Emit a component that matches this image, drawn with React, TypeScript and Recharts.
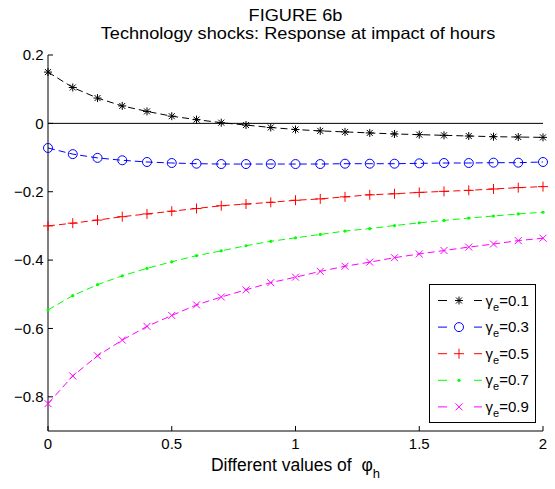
import React from 'react';
import { LineChart, Line, XAxis, YAxis, ReferenceLine, Legend } from 'recharts';

// phi_h grid
const phiValues = [0, 0.1, 0.2, 0.3, 0.4, 0.5, 0.6, 0.7, 0.8, 0.9, 1.0, 1.1, 1.2, 1.3, 1.4, 1.5, 1.6, 1.7, 1.8, 1.9, 2.0];

// response at impact of hours, one array per gamma_e
const gamma01 = [0.150, 0.105, 0.074, 0.051, 0.035, 0.021, 0.011, 0.002, -0.005, -0.012, -0.018, -0.022, -0.025, -0.028, -0.031, -0.033, -0.035, -0.037, -0.039, -0.040, -0.041];
const gamma03 = [-0.072, -0.090, -0.101, -0.108, -0.113, -0.116, -0.118, -0.119, -0.119, -0.119, -0.119, -0.119, -0.118, -0.118, -0.118, -0.117, -0.116, -0.116, -0.115, -0.115, -0.113];
const gamma05 = [-0.300, -0.292, -0.283, -0.273, -0.265, -0.257, -0.249, -0.241, -0.236, -0.231, -0.225, -0.221, -0.215, -0.209, -0.206, -0.202, -0.199, -0.196, -0.192, -0.188, -0.185];
const gamma07 = [-0.546, -0.504, -0.472, -0.446, -0.424, -0.405, -0.387, -0.373, -0.358, -0.345, -0.335, -0.325, -0.315, -0.308, -0.299, -0.291, -0.284, -0.277, -0.271, -0.265, -0.260];
const gamma09 = [-0.820, -0.739, -0.680, -0.634, -0.594, -0.562, -0.531, -0.508, -0.487, -0.466, -0.450, -0.433, -0.418, -0.406, -0.393, -0.382, -0.372, -0.362, -0.353, -0.343, -0.336];

const gammaLabels = ['0.1', '0.3', '0.5', '0.7', '0.9'];
const xTicks = [0, 0.5, 1, 1.5, 2];
const yTicks = [0.2, 0, -0.2, -0.4, -0.6, -0.8];

const data = phiValues.map((phi, i) => ({
  phi,
  g01: gamma01[i],
  g03: gamma03[i],
  g05: gamma05[i],
  g07: gamma07[i],
  g09: gamma09[i],
}));

const FONT = '"Liberation Sans", Arial, Helvetica, sans-serif';

type MarkerKind = 'star' | 'circle' | 'plus' | 'point' | 'cross';

function Marker({ kind, cx, cy, color }: { kind: MarkerKind; cx: number; cy: number; color: string }) {
  if (cx == null || cy == null) return null;
  switch (kind) {
    case 'star':
      return (
        <g stroke={color} strokeWidth={1}>
          <line x1={cx - 4} x2={cx + 4} y1={cy} y2={cy} />
          <line x1={cx} x2={cx} y1={cy - 4} y2={cy + 4} />
          <line x1={cx - 3} x2={cx + 3} y1={cy - 3} y2={cy + 3} />
          <line x1={cx - 3} x2={cx + 3} y1={cy + 3} y2={cy - 3} />
        </g>
      );
    case 'circle':
      return <circle cx={cx} cy={cy} r={4.5} fill="none" stroke={color} strokeWidth={1} />;
    case 'plus':
      return (
        <g stroke={color} strokeWidth={1}>
          <line x1={cx - 5} x2={cx + 5} y1={cy} y2={cy} />
          <line x1={cx} x2={cx} y1={cy - 5} y2={cy + 5} />
        </g>
      );
    case 'point':
      return <circle cx={cx} cy={cy} r={1.6} fill={color} stroke="none" />;
    case 'cross':
      return (
        <g stroke={color} strokeWidth={1}>
          <line x1={cx - 3.5} x2={cx + 3.5} y1={cy - 3.5} y2={cy + 3.5} />
          <line x1={cx - 3.5} x2={cx + 3.5} y1={cy + 3.5} y2={cy - 3.5} />
        </g>
      );
  }
  return null;
}

const series = [
  { key: 'g01', color: '#000000', marker: 'star' as MarkerKind },
  { key: 'g03', color: '#0000ff', marker: 'circle' as MarkerKind },
  { key: 'g05', color: '#ff0000', marker: 'plus' as MarkerKind },
  { key: 'g07', color: '#00ff00', marker: 'point' as MarkerKind },
  { key: 'g09', color: '#ff00ff', marker: 'cross' as MarkerKind },
];

const fmt = (v: number) => String(v).replace('-', '\u2212');

const BottomTick = (props: any) => {
  const { x, y, payload } = props;
  return (
    <g>
      <line x1={x} x2={x} y1={y} y2={y - 5} stroke="#000" />
      <text x={x} y={y + 17.5} textAnchor="middle" fontSize={15} fontFamily={FONT} fill="#000">
        {fmt(payload.value)}
      </text>
    </g>
  );
};

const LeftTick = (props: any) => {
  const { x, y, payload } = props;
  return (
    <g>
      <line x1={x} x2={x + 5} y1={y} y2={y} stroke="#000" />
      <text x={x - 4.5} y={y + 5.3} textAnchor="end" fontSize={15} fontFamily={FONT} fill="#000">
        {fmt(payload.value)}
      </text>
    </g>
  );
};

const TopTick = (props: any) => {
  const { x, y } = props;
  return <line x1={x} x2={x} y1={y} y2={y + 5} stroke="#000" />;
};

const RightTick = (props: any) => {
  const { x, y } = props;
  return <line x1={x} x2={x - 5} y1={y} y2={y} stroke="#000" />;
};

const XLabel = (props: any) => {
  const vb = props.viewBox || {};
  const cx = vb.x + vb.width / 2;
  return (
    <text x={cx} y={vb.y + 40} textAnchor="middle" fontSize={17.5} fontFamily={FONT} fill="#000">
      Different values of {'\u00a0'}φ
      <tspan fontSize={13} dy={7}>h</tspan>
    </text>
  );
};

const LegendBox = (props: any) => {
  const payload = props.payload || [];
  return (
    <svg width={107} height={139} style={{ display: 'block' }}>
      <rect x={0.5} y={0.5} width={106} height={138} fill="#fff" stroke="#000" />
      {payload.map((entry: any, i: number) => {
        const s = series.find((d) => d.key === entry.dataKey) || series[i];
        const cy = 16.5 + i * 26.6;
        const label = String(entry.value).split('=')[1];
        return (
          <g key={s.key}>
            <line x1={9} x2={18} y1={cy} y2={cy} stroke={s.color} />
            <Marker kind={s.marker} cx={30} cy={cy} color={s.color} />
            <line x1={45} x2={53} y1={cy} y2={cy} stroke={s.color} />
            <text x={56.5} y={cy + 5} fontSize={15} fontFamily={FONT} fill="#000">
              γ<tspan fontSize={11} dy={5}>e</tspan>
              <tspan dy={-5}>={label}</tspan>
            </text>
          </g>
        );
      })}
    </svg>
  );
};

const titleStyle: React.CSSProperties = {
  position: 'absolute',
  left: 0,
  fontSize: 16.5,
  lineHeight: '17px',
  textAlign: 'center',
  color: '#000',
  whiteSpace: 'nowrap',
};

export default function App() {
  return (
    <div style={{ position: 'absolute', left: 0, top: 0, width: 555, height: 489, background: '#fff', fontFamily: FONT }}>
      <div style={{ ...titleStyle, top: 6.6, width: 591, transform: 'scaleX(1.1)', transformOrigin: '295.5px 0' }}>FIGURE 6b</div>
      <div style={{ ...titleStyle, top: 25, width: 596, transform: 'scaleX(1.1)', transformOrigin: '298px 0' }}>
        Technology shocks: Response at impact of hours
      </div>
      <LineChart width={555} height={489} data={data} margin={{ top: 55, right: 12, left: 0, bottom: 0 }}>
        <XAxis
          dataKey="phi"
          type="number"
          domain={[0, 2]}
          ticks={xTicks}
          height={58}
          tickSize={0}
          tickMargin={0}
          tickLine={false}
          axisLine={{ stroke: '#000' }}
          tick={<BottomTick />}
          interval={0}
          label={<XLabel />}
        />
        <XAxis
          xAxisId="top"
          orientation="top"
          type="number"
          domain={[0, 2]}
          ticks={xTicks}
          height={0}
          tickSize={0}
          tickMargin={0}
          tickLine={false}
          axisLine={{ stroke: '#000' }}
          tick={<TopTick />}
          interval={0}
        />
        <YAxis
          type="number"
          domain={[-0.9, 0.2]}
          ticks={yTicks}
          width={48}
          tickSize={0}
          tickMargin={0}
          tickLine={false}
          axisLine={{ stroke: '#000' }}
          tick={<LeftTick />}
          interval={0}
        />
        <YAxis
          yAxisId="right"
          orientation="right"
          type="number"
          domain={[-0.9, 0.2]}
          ticks={yTicks}
          width={0}
          tickSize={0}
          tickMargin={0}
          tickLine={false}
          axisLine={{ stroke: '#000' }}
          tick={<RightTick />}
          interval={0}
        />
        <ReferenceLine y={0} stroke="#000" strokeWidth={1} />
        {series.map((s, i) => (
          <Line
            key={s.key}
            dataKey={s.key}
            name={`γe=${gammaLabels[i]}`}
            type="linear"
            stroke={s.color}
            strokeWidth={1}
            strokeDasharray="7 4"
            isAnimationActive={false}
            dot={(p: any) => <Marker key={`${s.key}-${p.index}`} kind={s.marker} cx={p.cx} cy={p.cy} color={s.color} />}
            activeDot={false}
          />
        ))}
        <Legend
          layout="vertical"
          align="center"
          verticalAlign="middle"
          content={<LegendBox />}
          wrapperStyle={{ left: 429, top: 284, width: 107, height: 139, margin: 0, padding: 0 }}
        />
      </LineChart>
    </div>
  );
}
